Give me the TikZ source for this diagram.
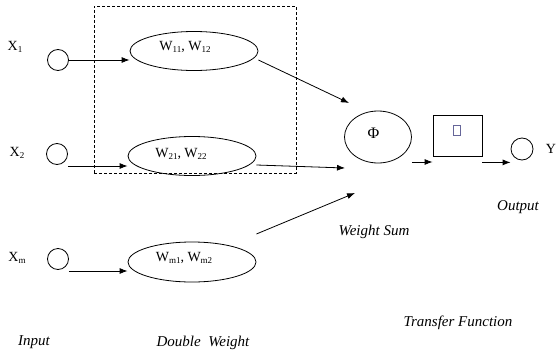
\documentclass[tikz,border=0pt]{standalone}
\usepackage{fontspec}
\setmainfont{Liberation Serif}
\usetikzlibrary{arrows.meta,shapes.geometric}
\newcommand\sbs[1]{\raisebox{-0.35ex}{\fontsize{9}{10}\selectfont #1}}
\begin{document}
\begin{tikzpicture}[x=1pt,y=-1pt,
  lbl/.style={inner sep=0pt,font=\fontsize{14}{16}\selectfont},
  ilbl/.style={inner sep=0pt,font=\fontsize{15}{17}\selectfont\itshape},
  incirc/.style={circle,draw,line width=0.8pt,minimum size=21pt,inner sep=0pt},
  wnode/.style={ellipse,draw,line width=0.8pt,minimum width=128pt,minimum height=39pt,inner sep=0pt},
  arr/.style={line width=0.8pt,-{Latex[length=8pt,width=6pt]}},
  ln/.style={line width=0.8pt}]
\useasboundingbox (0,0) rectangle (556,356);
% dashed box
\node[draw,dashed,dash pattern=on 3pt off 2pt,line width=0.7pt,minimum width=202pt,minimum height=167pt,inner sep=0pt] (dbox) at (195,89.5) {};
% inputs
\node[lbl] (lx1) at (15,47) {X\sbs{1}};
\node[lbl] (lx2) at (17,153) {X\sbs{2}};
\node[lbl] (lxm) at (17,258) {X\sbs{m}};
\node[incirc] (x1) at (58,60) {};
\node[incirc] (x2) at (57,154) {};
\node[incirc] (xm) at (58,259) {};
% weights
\node[wnode] (w11) at (194,51) {};
\node[wnode] (w21) at (192,156) {};
\node[wnode,minimum height=40pt] (wm) at (192,262) {};
\node[lbl] (w11t) at (185,47) {W\sbs{11}, W\sbs{12}};
\node[lbl] (w21t) at (181,154) {W\sbs{21}, W\sbs{22}};
\node[lbl] (wmt) at (184,258) {W\sbs{m1}, W\sbs{m2}};
% sum, transfer, output
\node[ellipse,draw,line width=0.8pt,minimum width=67pt,minimum height=52pt,inner sep=0pt] (phi) at (378,137) {};
\node[inner sep=0pt,font=\fontsize{16}{18}\selectfont] (phit) at (373.5,133) {Φ};
\node[draw,line width=0.8pt,minimum width=49pt,minimum height=41pt,inner sep=0pt] (box) at (457.5,135.5) {};
\node[draw=gray!80!blue,line width=0.6pt,minimum width=7pt,minimum height=10pt,inner sep=0pt] (glyph) at (457,130.5) {};
\node[incirc,minimum size=22pt] (out) at (522,149) {};
\node[lbl] (ly) at (551,149) {Y};
% captions
\node[ilbl] (cin) at (34,342) {Input};
\node[ilbl] (cdw) at (203,343) {Double\ \ Weight};
\node[ilbl] (cws) at (374,232) {Weight Sum};
\node[ilbl] (cout) at (518,207) {Output};
\node[ilbl] (ctf) at (458,323) {Transfer Function};
% connector coordinates
\coordinate (s2) at ([yshift=-12pt]x2.east);
\coordinate (sm) at ([yshift=-12pt]xm.east);
\coordinate (p1) at ([yshift=-9pt]w11.east);
\coordinate (p2) at ([yshift=-9pt]w21.east);
\coordinate (p3) at ([yshift=28pt]wm.east);
\coordinate (e1) at (349,103);
\coordinate (e2) at (345,168);
\coordinate (e3) at (355,193);
\coordinate (q1) at ([yshift=-25pt]phi.east);
\coordinate (q2) at ([yshift=-6pt]box.south east);
% connectors
\draw[arr] (x1.east) -- (x1.east -| w11.west);
\draw[arr] (s2) -- (s2 -| w21.west);
\draw[arr] (sm) -- (sm -| wm.west);
\draw[arr] (p1) -- (e1);
\draw[arr] (p2) -- (e2);
\draw[arr] (p3) -- (e3);
\draw[arr] (q1) -- (q1 -| box.west);
\draw[arr] (q2) -- (q2 -| out.west);
\end{tikzpicture}
\end{document}
